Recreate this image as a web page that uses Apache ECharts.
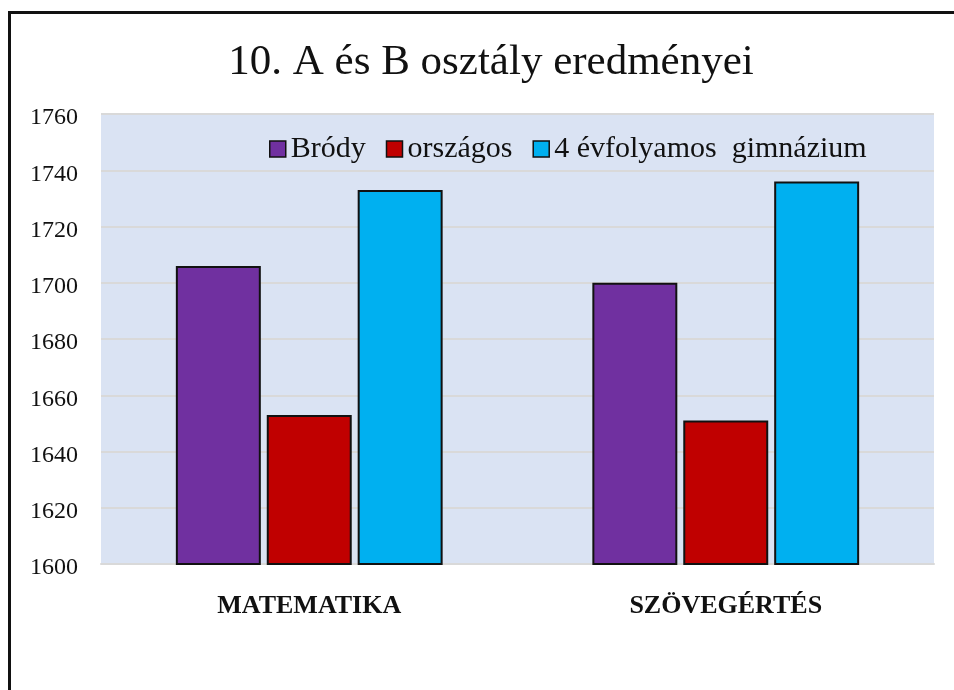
<!DOCTYPE html>
<html>
<head>
<meta charset="utf-8">
<script src="https://cdn.jsdelivr.net/npm/echarts@6/dist/echarts.min.js"></script>
<style>
  html, body { margin: 0; padding: 0; background: #fff; }
  #frame {
    position: absolute; left: 8px; top: 11px; width: 1000px; height: 740px;
    border: 3px solid #111; box-sizing: border-box;
  }
  #chart { position: absolute; left: 0; top: 0; width: 954px; height: 690px; }
</style>
</head>
<body>
<div id="frame"></div>
<div id="chart"></div>
<script>
var categories = ["MATEMATIKA", "SZÖVEGÉRTÉS"];
var seriesNames = ["Bródy", "országos", "4 évfolyamos  gimnázium"];
var brody = [1706, 1700];
var orszagos = [1653, 1651];
var gimnazium = [1733, 1736];
var colors = ["#7030A0", "#C00000", "#00B0F0"];

var chart = echarts.init(document.getElementById("chart"));
var fontFamily = "'Liberation Serif', 'DejaVu Serif', serif";

function barSeries(name, data, color) {
  return {
    name: name,
    type: "bar",
    data: data,
    barWidth: "20.4%",
    barGap: "7%",
    itemStyle: { color: color, borderColor: "#111", borderWidth: 2 }
  };
}

chart.setOption({
  animation: false,
  color: colors,
  title: {
    text: "10. A és B osztály eredményei",
    left: 486,
    top: 36,
    textAlign: "center",
    textStyle: { fontFamily: fontFamily, fontSize: 43, fontWeight: "normal", color: "#111" }
  },
  legend: {
    left: 264,
    top: 129,
    itemWidth: 16,
    itemHeight: 16,
    itemGap: 20,
    icon: "rect",
    itemStyle: { borderColor: "#111", borderWidth: 1.5 },
    textStyle: { fontFamily: fontFamily, fontSize: 30, color: "#111" },
    data: seriesNames
  },
  grid: {
    left: 101,
    right: 20,
    top: 114,
    bottom: 126,
    show: true,
    backgroundColor: "#DAE3F3",
    borderWidth: 0
  },
  xAxis: {
    type: "category",
    data: categories,
    axisLine: { lineStyle: { color: "#D9D9D9", width: 2 } },
    axisTick: { show: false },
    axisLabel: {
      margin: 29,
      fontFamily: fontFamily,
      fontSize: 26,
      fontWeight: "bold",
      color: "#111"
    }
  },
  yAxis: {
    type: "value",
    min: 1600,
    max: 1760,
    interval: 20,
    axisLine: { show: false },
    axisTick: { show: false },
    splitLine: { lineStyle: { color: "#D9D9D9", width: 2 } },
    axisLabel: {
      margin: 47,
      align: "center",
      formatter: function(v) {
        return "{n|" + v + "}";
      },
      rich: {
        n: {
          fontFamily: fontFamily,
          fontSize: 24,
          color: "#111",
          padding: [8, 0, 0, 0]
        }
      }
    }
  },
  series: [
    barSeries(seriesNames[0], brody, colors[0]),
    barSeries(seriesNames[1], orszagos, colors[1]),
    barSeries(seriesNames[2], gimnazium, colors[2])
  ]
});

window.addEventListener("resize", function() {
  chart.resize();
});
</script>
</body>
</html>
